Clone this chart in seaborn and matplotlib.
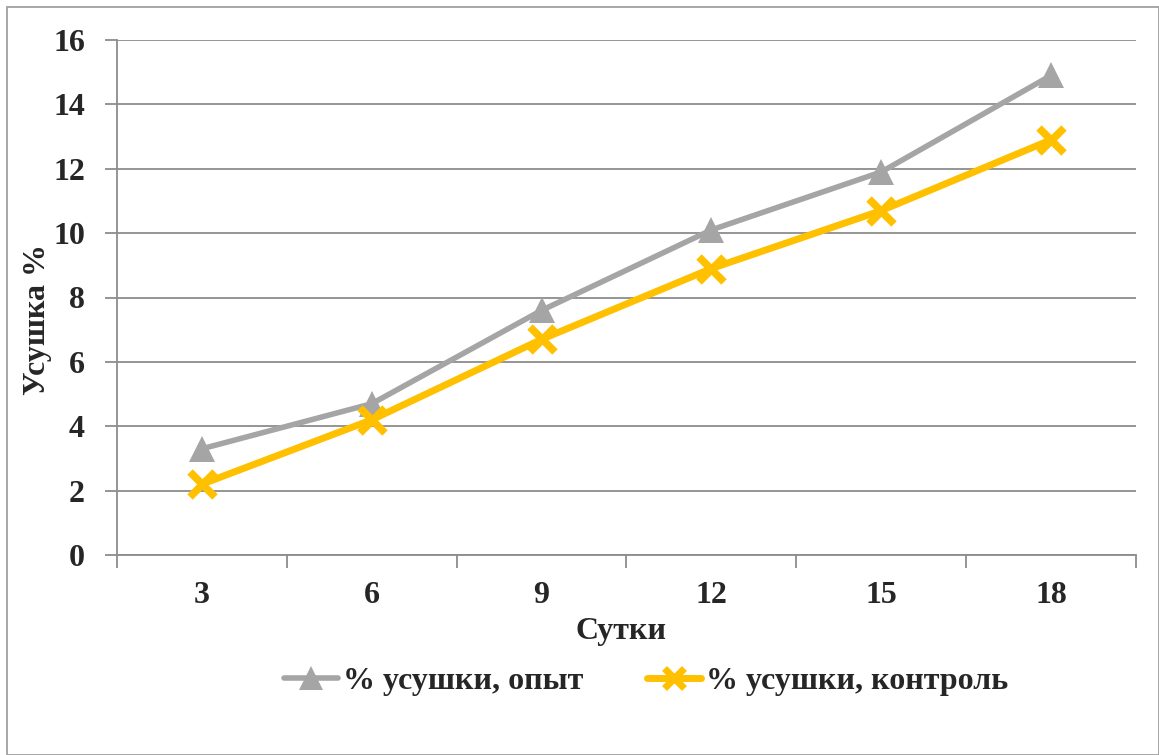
import pandas as pd
import matplotlib.pyplot as plt
import matplotlib.patches as mpatches
from matplotlib.lines import Line2D
import seaborn as sns

# data
days = ['3', '6', '9', '12', '15', '18']
shrink_exp = [3.3, 4.7, 7.6, 10.1, 11.9, 14.9]
shrink_ctrl = [2.2, 4.2, 6.7, 8.9, 10.7, 12.9]
label_exp = '% усушки, опыт'
label_ctrl = '% усушки, контроль'

GREY = '#A5A5A5'
GOLD = '#FFC000'
GRID = '#8C8C8C'

sns.set_style('white')
plt.rcParams['font.family'] = ['Liberation Serif', 'DejaVu Serif']
plt.rcParams['font.weight'] = 'bold'

W, H = 1159, 755
fig = plt.figure(figsize=(W / 100, H / 100), dpi=100)
ax = fig.add_axes([117 / W, 1 - 555 / H, 1019 / W, 515 / H])

df = pd.DataFrame({
    'pos': list(range(len(days))) * 2,
    'value': shrink_exp + shrink_ctrl,
    'series': [label_exp] * len(days) + [label_ctrl] * len(days),
})

sns.lineplot(data=df[df.series == label_exp], x='pos', y='value', ax=ax,
             color=GREY, linewidth=4, marker='^', markersize=19,
             markeredgewidth=0, legend=False, zorder=3)
sns.lineplot(data=df[df.series == label_ctrl], x='pos', y='value', ax=ax,
             color=GOLD, linewidth=5, marker='x', markersize=18,
             markeredgewidth=5.5, markeredgecolor=GOLD, legend=False, zorder=4)

ax.set_xlim(-0.5, len(days) - 0.5)
ax.set_ylim(0, 16)
ax.set_yticks(range(0, 17, 2))
ax.set_yticklabels([str(v) for v in range(0, 17, 2)], fontsize=23, fontweight='bold')
ax.yaxis.grid(True, color=GRID, linewidth=1.3)
ax.set_axisbelow(True)

# category axis: ticks between categories, labels centered
ax.set_xticks([i - 0.5 for i in range(len(days) + 1)])
ax.set_xticklabels([])
ax.set_xticks(range(len(days)), minor=True)
ax.set_xticklabels(days, minor=True, fontsize=23, fontweight='bold')
ax.tick_params(axis='x', which='major', direction='out', length=9, width=1.3, color=GRID, bottom=True)
ax.tick_params(axis='x', which='minor', length=0, pad=19)
ax.tick_params(axis='y', direction='out', length=9, width=1.3, color=GRID, left=True, pad=14)

for s in ['top', 'right']:
    ax.spines[s].set_visible(False)
for s in ['left', 'bottom']:
    ax.spines[s].set_color(GRID)
    ax.spines[s].set_linewidth(1.3)
ax.set_xlabel('')
ax.set_ylabel('')

fig.text(621 / W, 1 - 632 / H, 'Сутки', ha='center', va='center', fontsize=23, fontweight='bold')
fig.text(38 / W, 1 - 320 / H, 'Усушка %', ha='center', va='center', rotation=90,
         fontsize=23, fontweight='bold')

handles = [
    Line2D([], [], color=GREY, linewidth=4, marker='^', markersize=17, markeredgewidth=0),
    Line2D([], [], color=GOLD, linewidth=5, marker='x', markersize=14,
           markeredgewidth=5, markeredgecolor=GOLD),
]
fig.legend(handles, [label_exp, label_ctrl], loc='center', ncol=2,
           bbox_to_anchor=(646 / W, 1 - 681 / H), frameon=False,
           prop={'size': 23, 'weight': 'bold'}, handlelength=1.7,
           handletextpad=0.15, columnspacing=2.0)

# outer chart border
fig.patches.append(mpatches.Rectangle((7 / W, 0), 1 - 7 / W, 1 - 7 / H, transform=fig.transFigure,
                                      fill=False, edgecolor='#A0A0A0', linewidth=1.3))

fig.savefig('out.png', dpi=100)
